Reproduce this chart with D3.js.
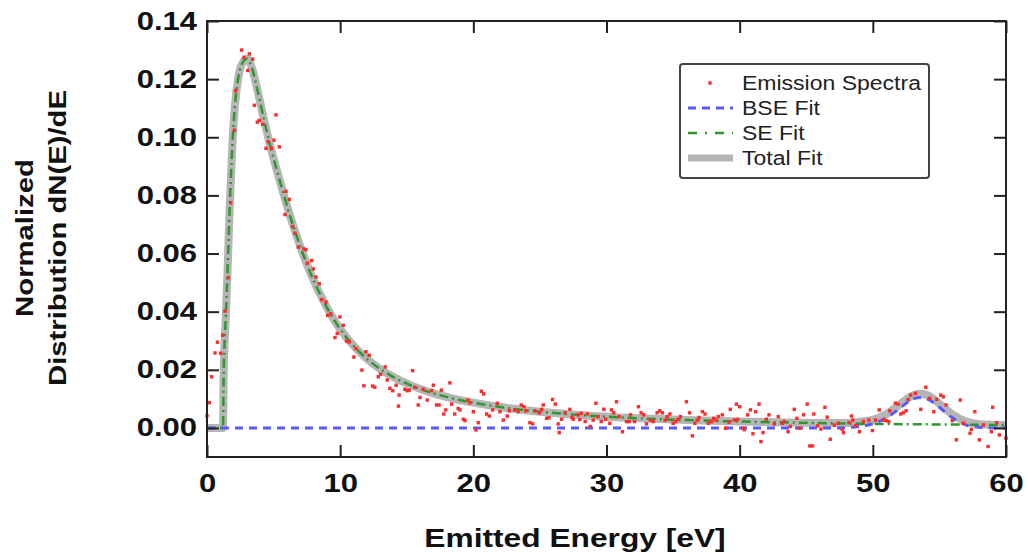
<!DOCTYPE html>
<html>
<head>
<meta charset="utf-8">
<script src="https://cdn.jsdelivr.net/npm/d3@7"></script>
<style>
  body { margin: 0; background: #fff; }
  svg text { font-family: Arial, "Liberation Sans", sans-serif; }
</style>
</head>
<body>
<div id="chart"></div>
<script>
// axis ticks
var xTicks = [0, 10, 20, 30, 40, 50, 60]
var yTicks = [0, 0.02, 0.04, 0.06, 0.08, 0.10, 0.12, 0.14]

// emission spectra (measured points)
var specE = [0.0, 0.17, 0.35, 0.6, 0.78, 1.03, 1.18, 1.35, 1.6, 1.78, 2.05, 2.15, 2.6, 2.78, 3.06, 3.18, 3.43, 3.56, 3.78, 3.93,
  4.18, 4.43, 4.6, 4.83, 5.03, 5.18, 5.43, 5.86, 5.93, 6.18, 6.43, 6.6, 6.86, 7.28, 7.43, 7.53, 7.86, 7.98, 8.18, 8.43,
  8.61, 8.93, 9.06, 9.28, 9.61, 9.78, 9.98, 10.23, 10.48, 10.68, 11.03, 11.18, 11.63, 11.78, 11.93, 12.18, 12.43, 12.6, 12.86, 13.04,
  13.38, 13.53, 13.73, 13.95, 14.2, 14.38, 14.43, 14.86, 15.03, 15.18, 15.44, 15.6, 15.86, 16.0, 16.24, 16.54, 16.87, 17.0, 17.24, 17.43,
  17.6, 17.78, 17.93, 18.24, 18.37, 18.6, 18.86, 19.0, 19.25, 19.37, 19.6, 19.74, 20.0, 20.2, 20.37, 20.6, 20.78, 21.0, 21.2, 21.45,
  21.8, 22.0, 22.25, 22.55, 22.7, 23.1, 23.37, 23.6, 23.8, 23.94, 24.25, 24.46, 24.6, 24.95, 25.13, 25.25, 25.5, 25.68, 25.95, 26.15,
  26.37, 26.45, 26.63, 26.88, 27.25, 27.4, 27.5, 27.87, 28.0, 28.1, 28.4, 28.57, 28.78, 29.0, 29.2, 29.37, 29.6, 29.8, 29.94, 30.25,
  30.37, 30.55, 30.75, 30.95, 31.2, 31.5, 31.7, 31.8, 32.1, 32.4, 32.6, 32.8, 33.0, 33.3, 33.5, 33.8, 34.0, 34.2, 34.4, 34.55,
  34.76, 35.0, 35.2, 35.35, 35.55, 36.0, 36.24, 36.45, 36.64, 36.8, 36.95, 37.2, 37.4, 37.65, 37.9, 38.05, 38.2, 38.4, 38.7, 38.94,
  39.2, 39.3, 39.6, 39.75, 39.85, 40.0, 40.25, 40.35, 40.6, 40.8, 41.0, 41.2, 41.45, 41.6, 41.76, 42.0, 42.2, 42.6, 42.9, 43.2,
  43.35, 43.64, 43.8, 44.1, 44.3, 44.5, 44.8, 45.07, 45.27, 45.47, 45.57, 45.85, 46.1, 46.4, 46.57, 46.8, 47.1, 47.4, 47.7, 47.8,
  48.2, 48.4, 48.5, 48.7, 49.0, 49.3, 49.7, 49.97, 50.2, 50.48, 50.8, 51.0, 51.2, 51.27, 51.7, 51.9, 52.1, 52.3, 52.5, 52.66,
  52.84, 53.2, 53.6, 53.98, 54.28, 54.58, 54.8, 55.1, 55.3, 55.5, 55.97, 56.27, 56.57, 56.8, 57.3, 57.4, 57.66, 58.0, 58.3, 58.66,
  58.9, 59.0, 59.3, 59.5, 60.0]
var specV = [0.0042, 0.0087, 0.0176, 0.0258, 0.0295, 0.0257, 0.0319, 0.0402, 0.0517, 0.0775, 0.1024, 0.116, 0.130, 0.1275, 0.123, 0.1287, 0.1269, 0.111, 0.1052, 0.1058,
  0.1045, 0.0962, 0.0985, 0.0962, 0.099, 0.1077, 0.0967, 0.0734, 0.0814, 0.0786, 0.0693, 0.067, 0.0622, 0.0616, 0.0613, 0.0567, 0.0576, 0.0547, 0.0519, 0.0496,
  0.0441, 0.0433, 0.0387, 0.0393, 0.0311, 0.0325, 0.0382, 0.0353, 0.0299, 0.0296, 0.0244, 0.0273, 0.0199, 0.0145, 0.0262, 0.025, 0.0144, 0.014, 0.0176, 0.0185,
  0.021, 0.0165, 0.0136, 0.0128, 0.0147, 0.0075, 0.0113, 0.0133, 0.0128, 0.013, 0.0197, 0.014, 0.0079, 0.0105, 0.0133, 0.0096, 0.0128, 0.0147, 0.0079, 0.0079,
  0.013, 0.0048, 0.0062, 0.0155, 0.0082, 0.0048, 0.0067, 0.0062, 0.003, 0.0025, 0.0096, 0.0087, 0.0056, -0.0007, 0.0018, 0.0126, 0.0117, 0.0048, 0.0041, 0.0062,
  0.0085, 0.0056, 0.0027, 0.0041, 0.0059, 0.0062, 0.0056, 0.0079, 0.0073, 0.0059, 0.0018, 0.0014, 0.0059, 0.0052, 0.0064, 0.0079, 0.0033, 0.0035, 0.0098, 0.0082,
  0.0014, -0.0016, 0.003, 0.0052, 0.0064, 0.0036, 0.003, 0.0045, 0.0029, 0.005, 0.0022, 0.0048, 0.0005, 0.0027, 0.0085, 0.0039, 0.0022, 0.0064, 0.003, 0.0016,
  0.0062, 0.0052, 0.009, 0.0039, -0.0013, 0.0022, 0.0022, 0.0045, 0.0022, 0.0073, 0.0052, 0.0045, 0.0014, 0.0027, 0.0022, 0.0052, 0.0059, 0.0052, 0.0027, 0.0039,
  0.0048, 0.0016, 0.0022, 0.0029, 0.0039, 0.009, 0.0052, -0.0027, 0.0016, 0.0027, 0.0036, 0.0056, 0.0048, 0.0016, 0.0022, 0.0033, 0.0027, 0.0039, 0.0045, -0.0001,
  0.002, 0.0064, 0.0027, 0.0082, 0.0029, 0.0073, -0.0001, -0.0006, 0.0045, 0.0062, -0.002, 0.0056, 0.0082, -0.0047, -0.0016, 0.003, 0.0045, 0.0014, 0.0039, 0.0016,
  0.0022, -0.0013, 0.0005, 0.0064, 0.0033, -0.0001, 0.0045, 0.0082, -0.0062, -0.0062, 0.0048, 0.0007, -0.0004, 0.0071, 0.0037, -0.0039, 0.001, 0.0016, -0.0005, -0.0016,
  0.0018, 0.0041, 0.0027, 0.0008, -0.0013, 0.0022, 0.0027, -0.0009, 0.0027, 0.0062, 0.0027, 0.0025, 0.0022, 0.0059, 0.0085, 0.0082, 0.0048, 0.0052, 0.0059, 0.0098,
  0.0113, 0.0119, 0.0064, 0.014, 0.0102, 0.0056, 0.0098, 0.0113, 0.0107, 0.0079, 0.0025, -0.0041, 0.0096, 0.0016, -0.0018, -0.0005, 0.0056, -0.0041, 0.001, -0.0064,
  -0.0013, 0.0071, 0.0018, -0.0024, -0.0035]

// SE fit
var seE = [0, 1.2, 1.25, 1.4, 1.55, 1.7, 1.9, 2.1, 2.35, 2.6, 3.0, 3.4, 3.75, 4.25, 4.85, 5.5, 6.2, 7.0, 7.75, 9.0,
  10.0, 11.0, 12.0, 13.0, 14.0, 15.5, 17.0, 18.5, 20.0, 22.0, 25.0, 28.75, 32.0, 36.0, 40.0, 44.5, 50.0, 55.0, 60.0]
var seV = [0, 0, 0.018, 0.037, 0.055, 0.075, 0.097, 0.111, 0.1205, 0.125, 0.127, 0.1235, 0.117, 0.1067, 0.0953, 0.0845, 0.0735, 0.0625, 0.0535, 0.0415,
  0.034, 0.0283, 0.0238, 0.0203, 0.0175, 0.0143, 0.0119, 0.0101, 0.0087, 0.0072, 0.0056, 0.0042, 0.0034, 0.0027, 0.0022, 0.0018, 0.0014, 0.0012, 0.001]

// BSE fit
var bseE = [0, 47, 48, 49, 50, 51, 52, 52.5, 53, 53.5, 54, 54.5, 55, 56, 57, 58, 59, 60]
var bseV = [0, 0, 0.0001, 0.0005, 0.0014, 0.0034, 0.0067, 0.0085, 0.0099, 0.0105, 0.0101, 0.0089, 0.0071, 0.0034, 0.001, 0.0002, 0, 0]

// total fit
var totalE = [0, 1.2, 1.25, 1.4, 1.55, 1.7, 1.9, 2.1, 2.35, 2.6, 3.0, 3.4, 3.75, 4.25, 4.85, 5.5, 6.2, 7.0, 7.75, 9.0,
  10.0, 11.0, 12.0, 13.0, 14.0, 15.5, 17.0, 18.5, 20.0, 22.0, 25.0, 28.75, 32.0, 36.0, 40.0, 44.5, 47, 48, 49, 50,
  51, 52, 52.5, 53, 53.5, 54, 54.5, 55, 56, 57, 58, 59, 60]
var totalV = [0, 0, 0.018, 0.037, 0.055, 0.075, 0.097, 0.111, 0.1205, 0.125, 0.127, 0.1235, 0.117, 0.1067, 0.0953, 0.0845, 0.0735, 0.0625, 0.0535, 0.0415,
  0.034, 0.0283, 0.0238, 0.0203, 0.0175, 0.0143, 0.0119, 0.0101, 0.0087, 0.0072, 0.0056, 0.0042, 0.0034, 0.0027, 0.0022, 0.0018, 0.0017, 0.0017, 0.0021, 0.0028,
  0.0047, 0.0080, 0.0098, 0.0112, 0.0118, 0.0114, 0.0102, 0.0083, 0.0046, 0.0022, 0.0013, 0.0011, 0.001]

var legendLabels = ['Emission Spectra', 'BSE Fit', 'SE Fit', 'Total Fit']

var W = 1028, H = 557
var m = {left: 207, right: 22, top: 21, bottom: 100}

var svg = d3.select('#chart').append('svg').attr('width', W).attr('height', H)

var x = d3.scaleLinear().domain([0, 60]).range([m.left, W - m.right])
var y = d3.scaleLinear().domain([-0.01, 0.14]).range([H - m.bottom, m.top])

function zip(a, b){ return a.map(function(d, i){ return [d, b[i]] }) }

var line = d3.line().x(function(d){ return x(d[0]) }).y(function(d){ return y(d[1]) }).curve(d3.curveMonotoneX)

var plot = svg.append('g')

plot.append('path').datum(zip(totalE, totalV))
  .attr('d', line).attr('fill', 'none')
  .attr('stroke', '#b5b5b5').attr('stroke-width', 8).attr('stroke-linejoin', 'round')

plot.append('path').datum(zip(seE, seV))
  .attr('d', line).attr('fill', 'none')
  .attr('stroke', '#2e972e').attr('stroke-width', 2.5).attr('stroke-dasharray', '9,4,2,4')

plot.append('path').datum(zip(bseE, bseV))
  .attr('d', line).attr('fill', 'none')
  .attr('stroke', '#5a5aff').attr('stroke-width', 3).attr('stroke-dasharray', '8,6')

plot.selectAll('rect.pt').data(zip(specE, specV)).enter().append('rect')
  .attr('class', 'pt')
  .attr('x', function(d){ return x(d[0]) - 1.7 })
  .attr('y', function(d){ return y(d[1]) - 1.7 })
  .attr('width', 3.4).attr('height', 3.4)
  .attr('fill', '#ff2a2a')

// axes, ticks pointing inward on all four sides
svg.append('g').attr('transform', 'translate(0,' + y.range()[0] + ')')
  .call(d3.axisBottom(x).tickValues(xTicks).tickSize(-12).tickPadding(17).tickFormat(d3.format('d')))
svg.append('g').attr('transform', 'translate(0,' + y.range()[1] + ')')
  .call(d3.axisTop(x).tickValues(xTicks).tickSize(-12).tickFormat(''))
svg.append('g').attr('transform', 'translate(' + x.range()[0] + ',0)')
  .call(d3.axisLeft(y).tickValues(yTicks).tickSize(-12).tickPadding(10).tickFormat(d3.format('.2f')))
svg.append('g').attr('transform', 'translate(' + x.range()[1] + ',0)')
  .call(d3.axisRight(y).tickValues(yTicks).tickSize(-12).tickFormat(''))

svg.selectAll('.domain').remove()
svg.selectAll('.tick line').attr('stroke', '#222').attr('stroke-width', 2)
svg.selectAll('.tick text')
  .attr('font-size', 25).attr('font-weight', 'bold').attr('fill', '#111')
  .style('font-family', 'Arial, "Liberation Sans", sans-serif')

svg.append('rect')
  .attr('x', x.range()[0]).attr('y', y.range()[1])
  .attr('width', x.range()[1] - x.range()[0]).attr('height', y.range()[0] - y.range()[1])
  .attr('fill', 'none').attr('stroke', '#222').attr('stroke-width', 2)

// titles
svg.append('text').attr('class', 'ttl')
  .attr('x', 575).attr('y', 547).attr('text-anchor', 'middle')
  .attr('font-size', 26).attr('font-weight', 'bold').attr('fill', '#111')
  .text('Emitted Energy [eV]')

var yl = svg.append('g').attr('transform', 'translate(0,238) rotate(-90)')
yl.append('text').attr('class', 'ttl').attr('x', 0).attr('y', 33).attr('text-anchor', 'middle')
  .attr('font-size', 24).attr('font-weight', 'bold').attr('fill', '#111').text('Normalized')
yl.append('text').attr('class', 'ttl').attr('x', 0).attr('y', 66).attr('text-anchor', 'middle')
  .attr('font-size', 24).attr('font-weight', 'bold').attr('fill', '#111').text('Distribution dN(E)/dE')

// legend
var lg = svg.append('g').attr('transform', 'translate(680,64)')
lg.append('rect').attr('width', 249).attr('height', 114).attr('rx', 3)
  .attr('fill', '#fff').attr('stroke', '#444').attr('stroke-width', 2)

var rowY = [19, 44, 69, 94]
lg.append('rect').attr('x', 28.3).attr('y', rowY[0] - 1.7).attr('width', 3.4).attr('height', 3.4).attr('fill', '#ff2a2a')
lg.append('line').attr('x1', 8).attr('x2', 53).attr('y1', rowY[1]).attr('y2', rowY[1])
  .attr('stroke', '#5a5aff').attr('stroke-width', 3).attr('stroke-dasharray', '8,6')
lg.append('line').attr('x1', 8).attr('x2', 53).attr('y1', rowY[2]).attr('y2', rowY[2])
  .attr('stroke', '#2e972e').attr('stroke-width', 2.5).attr('stroke-dasharray', '9,8,2,8')
lg.append('line').attr('x1', 8).attr('x2', 53).attr('y1', rowY[3]).attr('y2', rowY[3])
  .attr('stroke', '#b5b5b5').attr('stroke-width', 7)

lg.selectAll('text.lab').data(legendLabels).enter().append('text')
  .attr('class', 'lab')
  .attr('x', 62).attr('y', function(d, i){ return rowY[i] + 7 })
  .attr('font-size', 20).attr('fill', '#222')
  .text(function(d){ return d })

// the reference text is drawn wider than Arial, stretch it
function stretch(sel, k){
  sel.each(function(){
    var w = this.getComputedTextLength()
    this.setAttribute('textLength', w * k)
    this.setAttribute('lengthAdjust', 'spacingAndGlyphs')
  })
}
stretch(svg.selectAll('.tick text'), 1.24)
stretch(svg.selectAll('text.ttl'), 1.22)
stretch(lg.selectAll('text.lab'), 1.15)
</script>
</body>
</html>
